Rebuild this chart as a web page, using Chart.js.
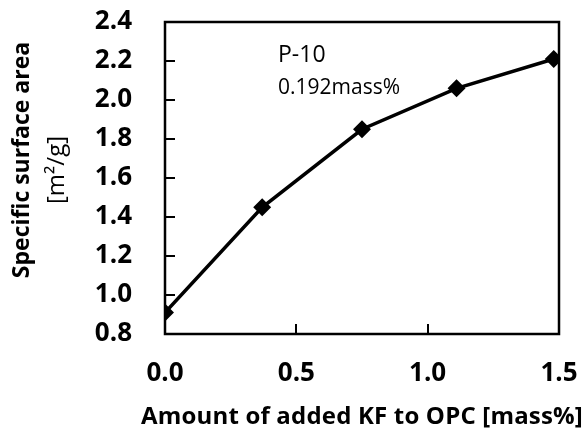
<!DOCTYPE html>
<html>
<head>
<meta charset="utf-8">
<script src="https://cdn.jsdelivr.net/npm/chart.js"></script>
<style>
  html, body { margin: 0; padding: 0; background: #fff; }
  #wrap { width: 588px; height: 433px; }
</style>
</head>
<body>
<div id="wrap"><canvas id="myChart" width="588" height="433"></canvas></div>
<script>
const kfAmounts = [0, 0.37, 0.75, 1.11, 1.48];
const surfaceAreas = [0.91, 1.45, 1.85, 2.06, 2.21];
const xTicks = [0, 0.5, 1.0, 1.5];
const yTicks = [0.8, 1.0, 1.2, 1.4, 1.6, 1.8, 2.0, 2.2, 2.4];
const xTitle = "Amount of added KF to OPC [mass%]";
const yTitleLines = ["Specific surface area", "[m\u00B2/g]"];
const noteLines = ["P-10", "0.192mass%"];

const FONT = "'Open Sans', sans-serif";

// frame, inward tick marks, axis titles and the note text
const framePlugin = {
  id: "frame",
  afterDraw(chart) {
    const ctx = chart.ctx;
    const area = chart.chartArea;
    const xs = chart.scales.x;
    const ys = chart.scales.y;
    ctx.save();
    ctx.strokeStyle = "#000";
    ctx.lineWidth = 2.5;
    ctx.strokeRect(area.left, area.top, area.right - area.left, area.bottom - area.top);

    ctx.lineWidth = 2;
    ctx.beginPath();
    yTicks.forEach((v) => {
      const py = Math.round(ys.getPixelForValue(v));
      ctx.moveTo(area.left, py);
      ctx.lineTo(area.left + 10, py);
    });
    xTicks.forEach((v) => {
      const px = Math.round(xs.getPixelForValue(v));
      ctx.moveTo(px, area.bottom);
      ctx.lineTo(px, area.bottom - 10);
    });
    ctx.stroke();

    ctx.fillStyle = "#000";
    ctx.textBaseline = "middle";

    // x title, stretched a little to the width of the original
    ctx.save();
    ctx.textAlign = "left";
    ctx.font = "bold 24px " + FONT;
    const wanted = 442;
    const w0 = ctx.measureText(xTitle).width;
    if ("letterSpacing" in ctx && w0 < wanted) {
      ctx.letterSpacing = ((wanted - w0) / xTitle.length).toFixed(2) + "px";
    }
    ctx.fillText(xTitle, 141, 417);
    ctx.restore();

    ctx.textAlign = "center";
    // y title, two lines
    ctx.save();
    ctx.translate(22, 160);
    ctx.rotate(-Math.PI / 2);
    ctx.font = "bold 23px " + FONT;
    ctx.fillText(yTitleLines[0], 0, 0);
    ctx.restore();
    ctx.save();
    ctx.translate(57, 170);
    ctx.rotate(-Math.PI / 2);
    ctx.font = "24px " + FONT;
    ctx.fillText(yTitleLines[1], 0, 0);
    ctx.restore();

    ctx.textAlign = "left";
    ctx.font = "23px " + FONT;
    ctx.fillText(noteLines[0], 278, 55);
    ctx.font = "21px " + FONT;
    ctx.fillText(noteLines[1], 278, 88);
    ctx.restore();
  },
};

const ctx = document.getElementById("myChart").getContext("2d");
new Chart(ctx, {
  type: "line",
  data: {
    datasets: [
      {
        data: kfAmounts.map((x, i) => ({ x: x, y: surfaceAreas[i] })),
        borderColor: "#000",
        backgroundColor: "#000",
        borderWidth: 3.5,
        pointStyle: "rectRot",
        pointRadius: 6.5,
        pointBackgroundColor: "#000",
        pointBorderColor: "#000",
        fill: false,
        tension: 0,
      },
    ],
  },
  options: {
    responsive: false,
    animation: false,
    layout: { padding: { top: 22, right: 29, left: 0, bottom: 0 } },
    plugins: {
      legend: { display: false },
      tooltip: { enabled: false },
    },
    scales: {
      x: {
        type: "linear",
        min: 0,
        max: 1.5,
        afterBuildTicks: (scale) => {
          scale.ticks = xTicks.map((v) => ({ value: v }));
        },
        afterFit: (scale) => {
          scale.height = 99;
          scale.paddingLeft = 0;
          scale.paddingRight = 0;
        },
        grid: { display: false, drawTicks: false },
        border: { display: false },
        ticks: {
          color: "#000",
          font: { family: FONT, size: 26, weight: "bold" },
          padding: 24,
          maxRotation: 0,
          autoSkip: false,
          callback: (v) => Number(v).toFixed(1),
        },
        title: { display: false },
      },
      y: {
        type: "linear",
        min: 0.8,
        max: 2.4,
        afterBuildTicks: (scale) => {
          scale.ticks = yTicks.map((v) => ({ value: v }));
        },
        afterFit: (scale) => {
          scale.width = 165;
          scale.paddingTop = 0;
          scale.paddingBottom = 0;
        },
        grid: { display: false, drawTicks: false },
        border: { display: false },
        ticks: {
          color: "#000",
          font: { family: FONT, size: 26, weight: "bold" },
          padding: 33,
          autoSkip: false,
          callback: (v) => Number(v).toFixed(1),
        },
        title: { display: false },
      },
    },
  },
  plugins: [framePlugin],
});
</script>
</body>
</html>
